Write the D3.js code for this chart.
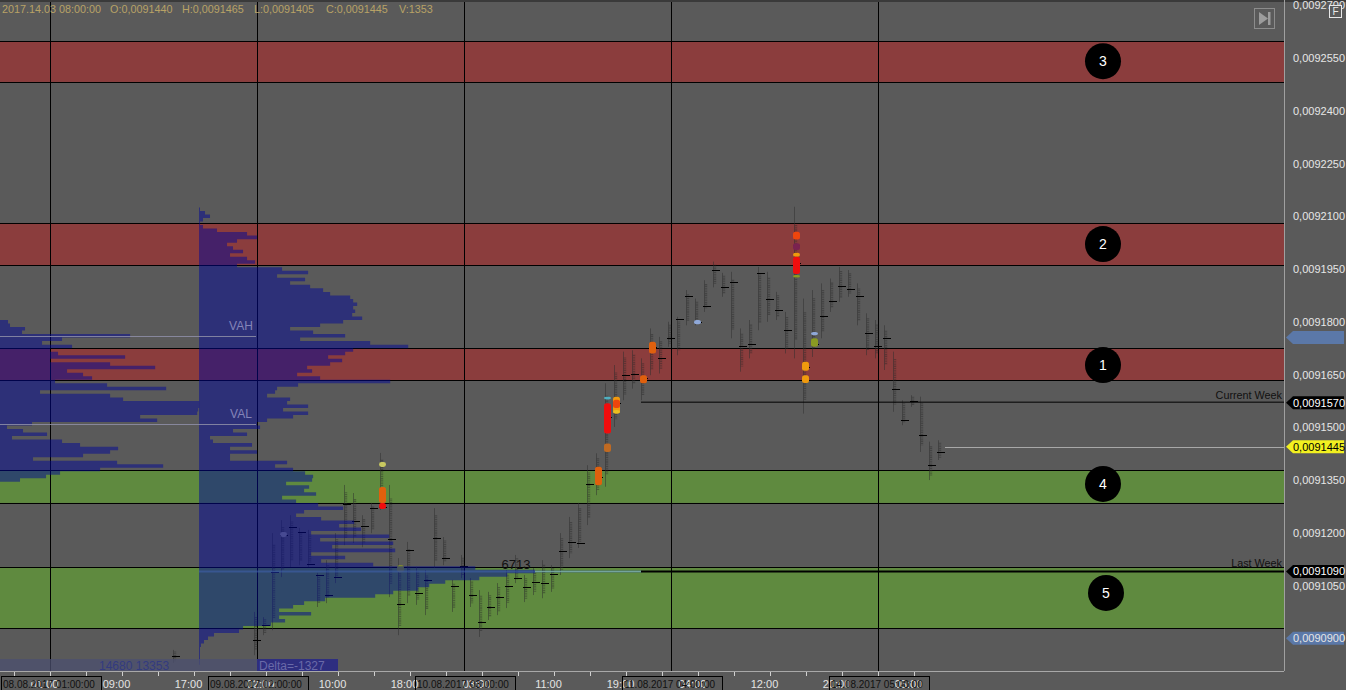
<!DOCTYPE html>
<html><head><meta charset="utf-8">
<style>html,body{margin:0;padding:0;background:#5a5a5a;overflow:hidden}svg{display:block}text{font-family:"Liberation Sans",Arial,sans-serif}</style>
<script src="https://cdn.jsdelivr.net/npm/d3@7/dist/d3.min.js"></script></head><body><svg id="c" width="1346" height="690"></svg>
<script>
// price units: 1e-7
const priceTicks=[92700,92550,92400,92250,92100,91950,91800,91650,91500,91350,91200,91050];
const bandNames=["3","2","1","4","5"];
const bandHigh=[92598,92081,91725,91378,91103];
const bandLow=[92482,91961,91634,91285,90929];
const bandKind=["res","res","res","sup","sup"];
const badgePrice=[92541,92021,91677,91339,91029];
const labelTickBars=[0,8,16,24,32,40,48,56,64,72,80,88,96];
const labelTickText=["01:00","09:00","17:00","02:00","10:00","18:00","03:00","11:00","19:00","04:00","12:00","20:00","05:00"];
const minorTickBars=[-4,0,4,8,12,16,20,24,28,32,36,40,44,48,52,56,60,64,68,72,76,80,84,88,92,96];
const sessionBars=[0,23,46,69,92];
const sessionText=["08.08.2017 01:00:00","09.08.2017 02:00:00","10.08.2017 03:00:00","11.08.2017 04:00:00","14.08.2017 05:00:00"];
const barIndex=[14,23,24,25,26,27,28,29,30,31,32,33,34,35,36,37,38,39,40,41,42,43,44,45,46,47,48,49,50,51,52,53,54,55,56,57,58,59,60,61,62,63,64,65,66,67,68,69,70,71,72,73,74,75,76,77,78,79,80,81,82,83,84,85,86,87,88,89,90,91,92,93,94,95,96,97,98,99];
const barHigh=[90867,90975,90960,91199,91236,91250,91214,91208,91086,91122,91199,91336,91313,91250,91285,91427,91336,91128,91174,91103,91094,91270,91188,91066,91137,91071,91037,91032,91057,91094,91137,91080,91100,91122,91108,91199,91245,91285,91392,91426,91625,91677,91715,91719,91696,91781,91757,91800,91814,91890,91866,91918,91971,91939,91942,91781,91805,91956,91942,91885,91828,92127,91866,91890,91909,91923,91956,91947,91909,91824,91805,91790,91715,91577,91591,91587,91459,91463];
const barLow=[90830,90852,90909,90923,91074,91103,91108,91103,90989,91000,91057,91165,91171,91159,91199,91265,91017,90909,91000,90995,90966,91100,91108,90975,91071,90989,90904,90952,90966,90986,91057,91003,91023,91014,91032,91080,91128,91157,91222,91307,91331,91501,91577,91610,91577,91648,91653,91729,91705,91790,91790,91828,91898,91871,91753,91658,91696,91776,91800,91805,91710,91696,91539,91700,91753,91828,91857,91871,91790,91705,91696,91663,91544,91506,91558,91430,91350,91407];
const barPoc=[90850,90895,90938,91088,91194,91216,91202,91111,91080,91023,91074,91282,91233,91219,91270,91273,91182,90997,91151,91029,91066,91185,91128,91049,91105,91023,90946,90989,91017,91049,91071,91046,91060,91057,91083,91148,91174,91171,91340,91359,91530,91568,91648,91651,91639,91729,91696,91753,91807,91873,91800,91846,91947,91900,91913,91731,91736,91940,91866,91833,91776,91966,91672,91738,91816,91859,91901,91894,91873,91767,91731,91755,91610,91522,91575,91478,91392,91430];
const hotBar=[26,37,37,37,39,61,62,62,62,63,63,63,66,67,72,83,83,83,83,83,84,84,85,85];
const hotHigh=[91202,91401,91330,91285,91108,91388,91587,91568,91454,91587,91578,91549,91648,91743,91805,92056,92023,91996,91985,91933,91686,91648,91771,91753];
const hotLow=[91188,91387,91285,91268,91088,91335,91579,91482,91430,91539,91555,91539,91625,91710,91793,92034,92004,91985,91936,91926,91661,91626,91762,91729];
const hotKind=["grey","pale","orange","red","olive","orange","cyan","red","brown","amber","hot","yellow","orange","orange","blue","hot","plum","amber","red","olive","amber","amber","blue","olive"];
const mainTopPrice=92120;
const mainVolumes=[20,120,220,80,20,80,360,960,1160,760,560,680,880,620,960,1120,760,1660,2180,1560,2120,1820,2220,2480,2620,3020,3080,3160,3080,3120,3060,3260,2880,2420,1820,2280,2920,2020,3420,4180,3080,2920,2580,2860,2620,2160,2260,1960,2420,3820,1980,1560,1520,1360,1820,1760,2180,1680,2180,1880,1360,1160,1220,680,960,220,280,1060,620,1160,620,620,1760,1520,1880,2120,2280,2260,1740,2200,2100,2340,1660,1940,2380,2880,2100,1940,2440,3100,2800,3240,2240,3800,2420,3880,2660,3920,2240,2920,2440,3480,5520,6713,6160,5600,4920,4600,4380,3880,3520,2520,2100,1880,1600,2240,1600,1720,1440,880,800,300,180,100,40,20,20,20,20,20];
const leftTopPrice=91800;
const leftVolumes=[160,200,500,440,2600,1240,840,1440,1000,1160,2500,1000,2200,3100,1340,1660,1840,1100,2140,3320,800,2200,2460,3980,3980,3960,3940,2800,3140,640,140,460,940,240,1240,1600,2360,2200,1660,660,2340,3260,2000,1200,920,400];
const pocVolume=6713, vah=91760, val=91510;
const weekLevels=[91570,91090], weekNames=["Current Week","Last Week"];
const lastPrice=91445;
const header=["2017.14.03 08:00:00","O:0,0091440","H:0,0091465","L:0,0091405","C:0,0091445","V:1353"];
const headerX=[2,110,182,254,326,399];

const W=1346,H=690,R=1284,AX=671;
const svg=d3.select("#c");
svg.append("defs").append("filter").attr("id","soft").attr("x","-40%").attr("y","-40%").attr("width","180%").attr("height","180%")
 .append("feGaussianBlur").attr("stdDeviation",.7);
const y=d3.scaleLinear().domain([92700,90900]).range([5.25,638.3]);
const x=d3.scaleLinear().domain([0,92]).range([50,878]);
const vol=d3.scaleLinear().domain([0,6713]).range([0,336]);
const fmt=p=>"0,00"+p;
const heat=d3.scaleOrdinal(["grey","pale","orange","red","olive","cyan","brown","amber","hot","yellow","blue","plum"],
 ["#8f8f8f","#c8c860","#e0600f","#f01010","#8a9a20","#4fb0c0","#c06a22","#f09a10","#ee4510","#e8c020","#8fa8d8","#7a2050"]);
svg.append("rect").attr("width",W).attr("height",H).attr("fill","#5a5a5a");
svg.append("rect").attr("width",W).attr("height",2).attr("fill","#3a3a3a");
const bandColor={res:"#8b3d3d",sup:"#5f8a3f"};
svg.selectAll(".band").data(bandHigh).join("rect").attr("x",0).attr("width",R)
 .attr("y",d=>y(d)).attr("height",(d,i)=>y(bandLow[i])-y(d)).attr("fill",(d,i)=>bandColor[bandKind[i]]);
svg.selectAll(".v").data(sessionBars).join("line").attr("x1",d=>Math.round(x(d))+.5).attr("x2",d=>Math.round(x(d))+.5)
 .attr("y1",2).attr("y2",AX).attr("stroke","#000");
const edges=bandHigh.concat(bandLow);
svg.selectAll(".e").data(edges).join("line").attr("x1",0).attr("x2",R)
 .attr("y1",d=>Math.round(y(d))+.5).attr("y2",d=>Math.round(y(d))+.5).attr("stroke","#000");
const bx=i=>Math.round(x(i))-3;
const g=svg.append("g");
barIndex.forEach((b,i)=>{
  const t=y(barHigh[i]),l=y(barLow[i]),h=l-t;
  g.append("line").attr("x1",bx(b)+.5).attr("x2",bx(b)+.5).attr("y1",t).attr("y2",l).attr("stroke","#2e2e2e").attr("stroke-opacity",.5);
  g.append("line").attr("x1",bx(b)+2).attr("x2",bx(b)+2).attr("y1",t+h*.12).attr("y2",l-h*.12)
   .attr("stroke","#262626").attr("stroke-opacity",.42).attr("stroke-width",2.4).attr("stroke-dasharray","1.1 .7");
  g.append("line").attr("x1",bx(b)-1).attr("x2",bx(b)+7).attr("y1",Math.round(y(barPoc[i]))+.5).attr("y2",Math.round(y(barPoc[i]))+.5).attr("stroke","#000");
});
svg.append("g").attr("filter","url(#soft)").selectAll("rect").data(hotBar).join("rect").attr("x",d=>bx(d)-1).attr("width",7)
 .attr("y",(d,i)=>y(hotHigh[i])).attr("height",(d,i)=>y(hotLow[i])-y(hotHigh[i])).attr("rx",2.5).attr("fill",(d,i)=>heat(hotKind[i]));
function profile(vols,top,x0){
  const rows=vols.map((v,k)=>({p:top+5-10*k,v}));
  rows.push({p:top+5-10*vols.length,v:vols[vols.length-1]});
  const a=d3.area().curve(d3.curveStepBefore).y(d=>y(d.p)).x0(x0).x1(d=>x0+vol(d.v));
  svg.append("path").attr("d",a(rows)).attr("fill","rgb(0,5,150)").attr("fill-opacity",.5);
}
profile(leftVolumes,leftTopPrice,0);
profile(mainVolumes,mainTopPrice,199);
[vah,val].forEach((p,i)=>{svg.append("line").attr("x1",0).attr("x2",256).attr("y1",Math.round(y(p))+.5).attr("y2",Math.round(y(p))+.5).attr("stroke","#8f8fa8").attr("stroke-opacity",.85);
 svg.append("text").attr("x",241).attr("y",y(p)-6).attr("text-anchor","middle").attr("font-size",12).attr("fill","#8484b8").text(i?"VAL":"VAH");});
svg.append("line").attr("x1",199).attr("x2",642).attr("y1",y(91090)).attr("y2",y(91090)).attr("stroke","#3f63b0").attr("stroke-width",2).attr("stroke-opacity",.55);
svg.append("line").attr("x1",535).attr("x2",642).attr("y1",y(91090)).attr("y2",y(91090)).attr("stroke","#7fb0a8").attr("stroke-opacity",.8);
svg.append("text").attr("x",516).attr("y",569).attr("text-anchor","middle").attr("font-size",13).attr("fill","#111").text(pocVolume);
weekLevels.forEach((p,i)=>{svg.append("line").attr("x1",641).attr("x2",R).attr("y1",y(p)+(i?0:-.5)).attr("y2",y(p)+(i?0:-.5)).attr("stroke","#000").attr("stroke-width",i?2:1);
 svg.append("text").attr("x",1282).attr("y",y(p)-4).attr("text-anchor","end").attr("font-size",10.8).attr("fill","#111").text(weekNames[i]);});
svg.append("line").attr("x1",945).attr("x2",R).attr("y1",Math.round(y(lastPrice))+.5).attr("y2",Math.round(y(lastPrice))+.5).attr("stroke","#a8a8a8");
const circleX=[1103,1103,1103,1103,1106];
bandNames.forEach((n,i)=>{const cy=y(badgePrice[i]);
 svg.append("circle").attr("cx",circleX[i]).attr("cy",cy).attr("r",18).attr("fill","#000");
 svg.append("text").attr("x",circleX[i]).attr("y",cy+5).attr("text-anchor","middle").attr("font-size",14).attr("fill","#fff").text(n);});
svg.append("rect").attr("x",0).attr("y",659).attr("width",258).attr("height",12).attr("fill","#4c5070").attr("fill-opacity",.75);
svg.append("text").attr("x",99).attr("y",670).attr("font-size",12).attr("fill","#333b80").text("14680 13353");
svg.append("rect").attr("x",257).attr("y",659).attr("width",81).attr("height",12).attr("fill","#2e2e80");
svg.append("text").attr("x",259).attr("y",670).attr("font-size",12).attr("fill","#6a6aa8").text("Delta=-1327");
const ax=svg.append("g").attr("transform",`translate(0,${AX})`);
ax.call(d3.axisBottom(x).tickValues(minorTickBars).tickSize(5).tickFormat(""));
ax.select(".domain").remove();
ax.selectAll("line").attr("stroke","#d0d0d0");
svg.append("line").attr("x1",0).attr("x2",R).attr("y1",AX+.5).attr("y2",AX+.5).attr("stroke","#a8a8a8");
labelTickBars.forEach((b,i)=>svg.append("text").attr("x",x(b)-5.5).attr("y",688).attr("text-anchor","middle").attr("font-size",11).attr("fill","#e4e4e4").text(labelTickText[i]));
sessionBars.forEach((b,i)=>{const cx=Math.round(x(b));
 svg.append("rect").attr("x",cx-48.5).attr("y",676.5).attr("width",100).attr("height",14).attr("fill","none").attr("stroke","#000");
 svg.append("text").attr("x",cx-47).attr("y",688).attr("font-size",10).attr("fill","#111").text(sessionText[i]);});
svg.append("line").attr("x1",R+.5).attr("x2",R+.5).attr("y1",0).attr("y2",AX).attr("stroke","#a0a0a0");
const pa=svg.append("g").attr("transform",`translate(1293,0)`);
pa.call(d3.axisRight(y).tickValues(priceTicks.concat([90900])).tickSize(0).tickPadding(0).tickFormat(fmt));
pa.select(".domain").remove();
pa.selectAll("text").attr("font-size",11).attr("fill","#e6e6e6").attr("font-family",'"Liberation Sans",Arial,sans-serif');
function tag(p,fill,label,col){const c=y(p);
 const pts=[[1286,c],[1293,c-6.5],[1344,c-6.5],[1344,c+6.5],[1293,c+6.5]];
 svg.append("polygon").attr("points",pts.join(" ")).attr("fill",fill);
 if(label)svg.append("text").attr("x",1293).attr("y",c+4).attr("font-size",11).attr("fill",col).text(label);}
tag(91755,"#5b78a8");
tag(90900,"#5b78a8",fmt(90900),"#e6e6e6");
tag(91570,"#000",fmt(91570),"#fff");
tag(91090,"#000",fmt(91090),"#fff");
tag(91445,"#f2f020",fmt(91445),"#000");
header.forEach((t,i)=>svg.append("text").attr("x",headerX[i]).attr("y",13).attr("font-size",10.8).attr("fill","#b8a266").text(t));
svg.append("rect").attr("x",1254.5).attr("y",8.5).attr("width",20).attr("height",20).attr("fill","none").attr("stroke","#8c8c8c");
svg.append("polygon").attr("points","1259,12 1259,25 1268,18.5").attr("fill","#9c9c9c");
svg.append("rect").attr("x",1268).attr("y",12).attr("width",2.5).attr("height",13).attr("fill","#9c9c9c");
svg.append("rect").attr("x",1329.5).attr("y",5.5).attr("width",12).attr("height",12).attr("fill","#5a5a5a").attr("stroke","#e8e8e8");
svg.append("text").attr("x",1335.5).attr("y",15).attr("text-anchor","middle").attr("font-size",10).attr("fill","#e8e8e8").text("F");
</script></body></html>
